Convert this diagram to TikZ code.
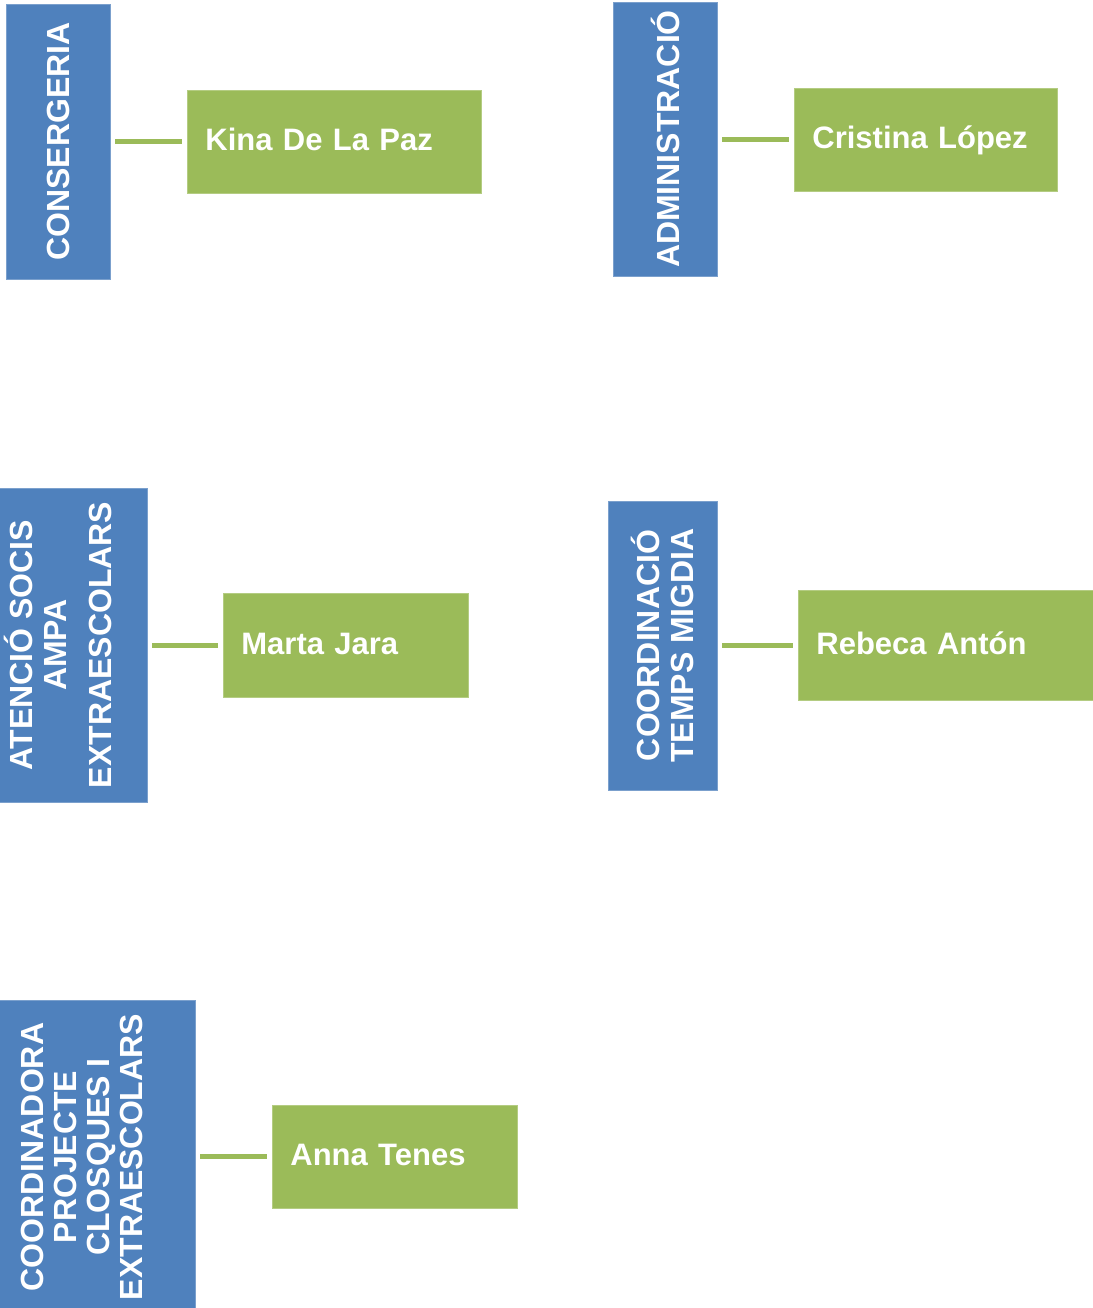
\documentclass[tikz,border=0pt]{standalone}
\usepackage{fontspec}
\setmainfont{Liberation Sans}
\definecolor{bbox}{HTML}{4F81BD}
\definecolor{gbox}{HTML}{9BBB59}
\begin{document}
\begin{tikzpicture}[x=1pt,y=-1pt,
  dept/.style={rotate=90, fill=bbox, draw=bbox!75!white, line width=0.8pt,
    inner sep=0pt, text=white, font=\bfseries\fontsize{32}{34}\selectfont, align=center},
  person/.style={anchor=north west, fill=gbox, draw=gbox!75!white, line width=0.8pt,
    inner xsep=18pt, inner ysep=0pt, text=white, font=\bfseries\fontsize{31}{34}\selectfont,
    text height=22pt, text depth=4pt, align=left},
  link/.style={draw=gbox, line width=5pt, shorten <=5pt, shorten >=5pt}]
\useasboundingbox (0,0) rectangle (1092,1308);

% departments (blue)
\node[dept, minimum width=275pt, minimum height=104pt] (cons) at (58,141.5) {CONSERGERIA};
\node[dept, minimum width=274pt, minimum height=104pt] (admin) at (665,139) {ADMINISTRACIÓ};
\node[dept, minimum width=314pt, minimum height=178pt] (aten) at (58,645)
  {ATENCIÓ SOCIS\\AMPA\\[10.5pt]EXTRAESCOLARS};
\node[dept, minimum width=289pt, minimum height=109pt] (coord) at (662.5,645.5)
  {COORDINACIÓ\\TEMPS MIGDIA};
\node[dept, minimum width=314pt, minimum height=227pt,
  font=\bfseries\fontsize{32}{33}\selectfont] (proj) at (81.5,1157)
  {COORDINADORA\\PROJECTE\\CLOSQUES I\\EXTRAESCOLARS};

% people (green)
\node[person, minimum height=103pt, text width=258pt] (kina) at (187,90) {Kina De La Paz};
\node[person, minimum height=103pt, text width=227pt] (cris) at (794,88) {Cristina López};
\node[person, minimum height=104pt, text width=209pt] (marta) at (223,593) {Marta Jara};
\node[person, minimum height=110pt, text width=270pt] (rebeca) at (798,590) {Rebeca Antón};
\node[person, minimum height=103pt, text width=209pt] (anna) at (272,1105) {Anna Tenes};

% connectors
\draw[link] (cons.south |- kina.west) -- (kina.west);
\draw[link] (admin.south |- cris.west) -- (cris.west);
\draw[link] (aten.south |- marta.west) -- (marta.west);
\draw[link] (coord.south |- rebeca.west) -- (rebeca.west);
\draw[link] (proj.south |- anna.west) -- (anna.west);
\end{tikzpicture}
\end{document}
